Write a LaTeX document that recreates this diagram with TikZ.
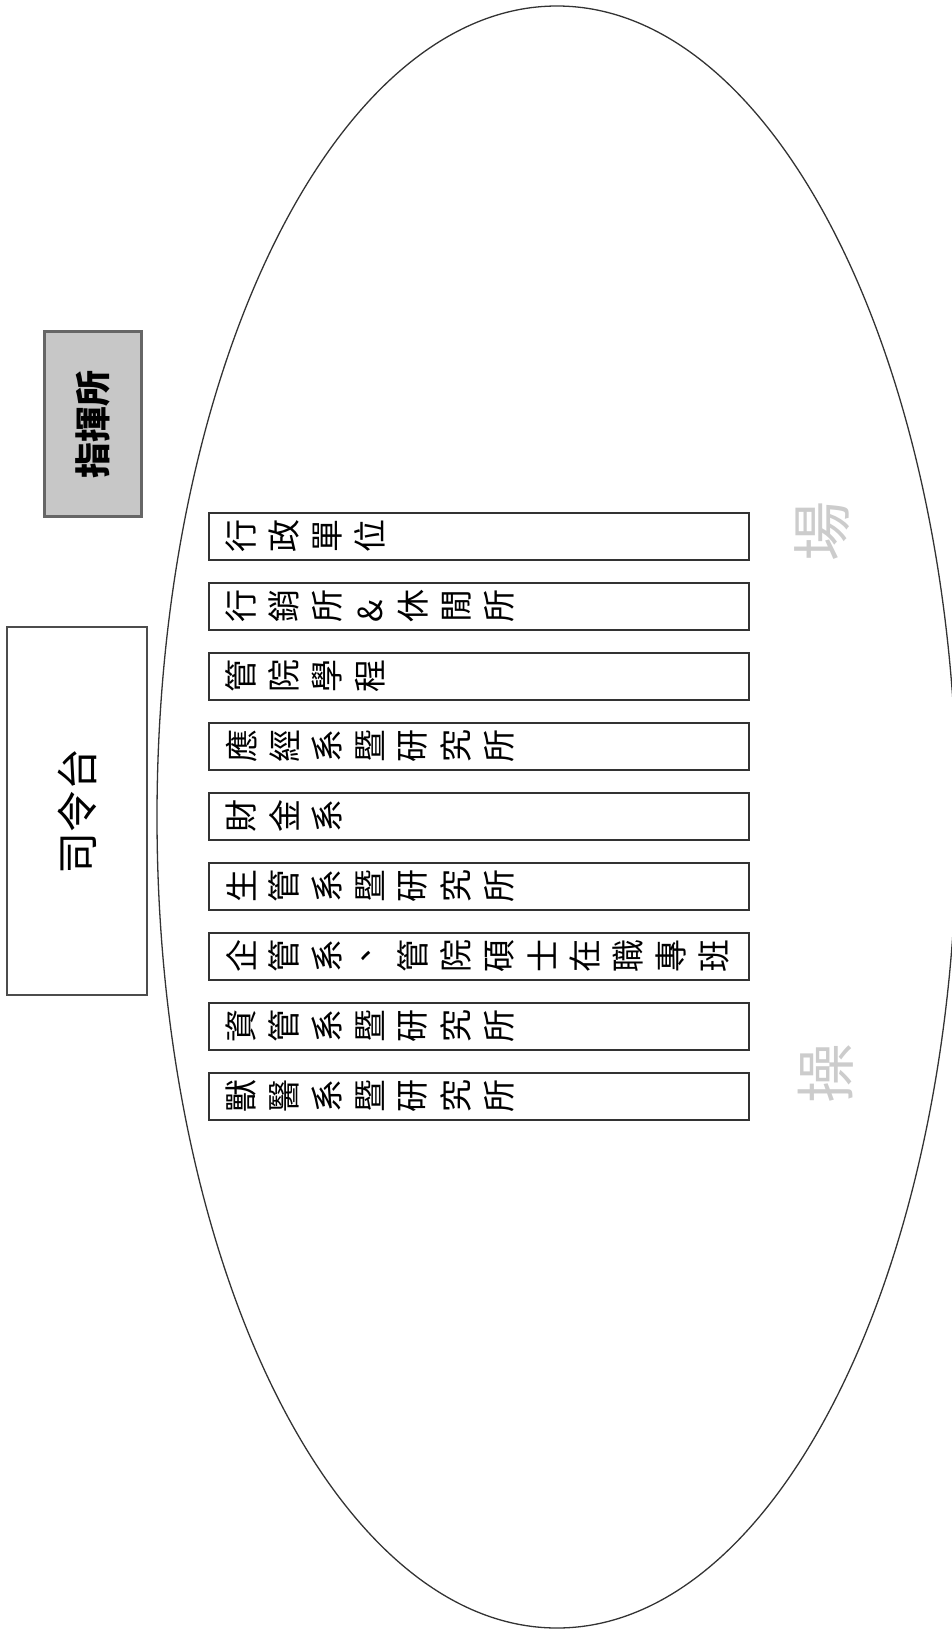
\documentclass[tikz,border=0pt]{standalone}
\usepackage{fontspec}
\usepackage{graphicx}
\newfontfamily\cjk{Noto Sans CJK TC}
% turn each character a quarter to the left
\newcommand{\vt}[1]{\vtx#1\relax}
\def\vtx#1{\ifx\relax#1\else\makebox[43pt]{\rotatebox{90}{#1}}\expandafter\vtx\fi}

\begin{document}
\begin{tikzpicture}[x=1pt,y=-1pt,
    dept/.style={draw=black!80,line width=1.6pt,anchor=north west,minimum width=540pt,minimum height=47pt,
      inner xsep=11pt,text width=518pt,align=left,font=\cjk\fontsize{33pt}{33pt}\selectfont},
    faded/.style={rotate=90,text=black!20,font=\cjk\fontsize{60pt}{60pt}\selectfont}]
  \useasboundingbox (0,0) rectangle (952,1635);
  \draw[line width=1.3pt,black!80] (557,817) ellipse [x radius=400pt,y radius=811pt];
  \node[rotate=90,draw=black!70,line width=1.2pt,minimum width=368pt,minimum height=140pt,
    font=\cjk\fontsize{42pt}{42pt}\selectfont] (stage) at (77,811) {司令台};
  \node[rotate=90,draw=black!60,fill=black!22,line width=3pt,minimum width=185pt,minimum height=97pt,
    font=\cjk\bfseries\fontsize{36pt}{36pt}\selectfont] (post) at (93,424) {指揮所};
  \node[dept] (admin) at (208,512) {\vt{行政單位}};
  \node[dept] (mkt) at (208,582) {\vt{行銷所\&休閒所}};
  \node[dept] (prog) at (208,652) {\vt{管院學程}};
  \node[dept] (econ) at (208,722) {\vt{應經系暨研究所}};
  \node[dept] (fin) at (208,792) {\vt{財金系}};
  \node[dept] (prod) at (208,862) {\vt{生管系暨研究所}};
  \node[dept] (biz) at (208,932) {\vt{企管系、管院碩士在職專班}};
  \node[dept] (info) at (208,1002) {\vt{資管系暨研究所}};
  \node[dept] (vet) at (208,1072) {\vt{獸醫系暨研究所}};
  \node[faded] (chang) at (822,531) {場};
  \node[faded] (cao) at (826,1073) {操};
\end{tikzpicture}
\end{document}
